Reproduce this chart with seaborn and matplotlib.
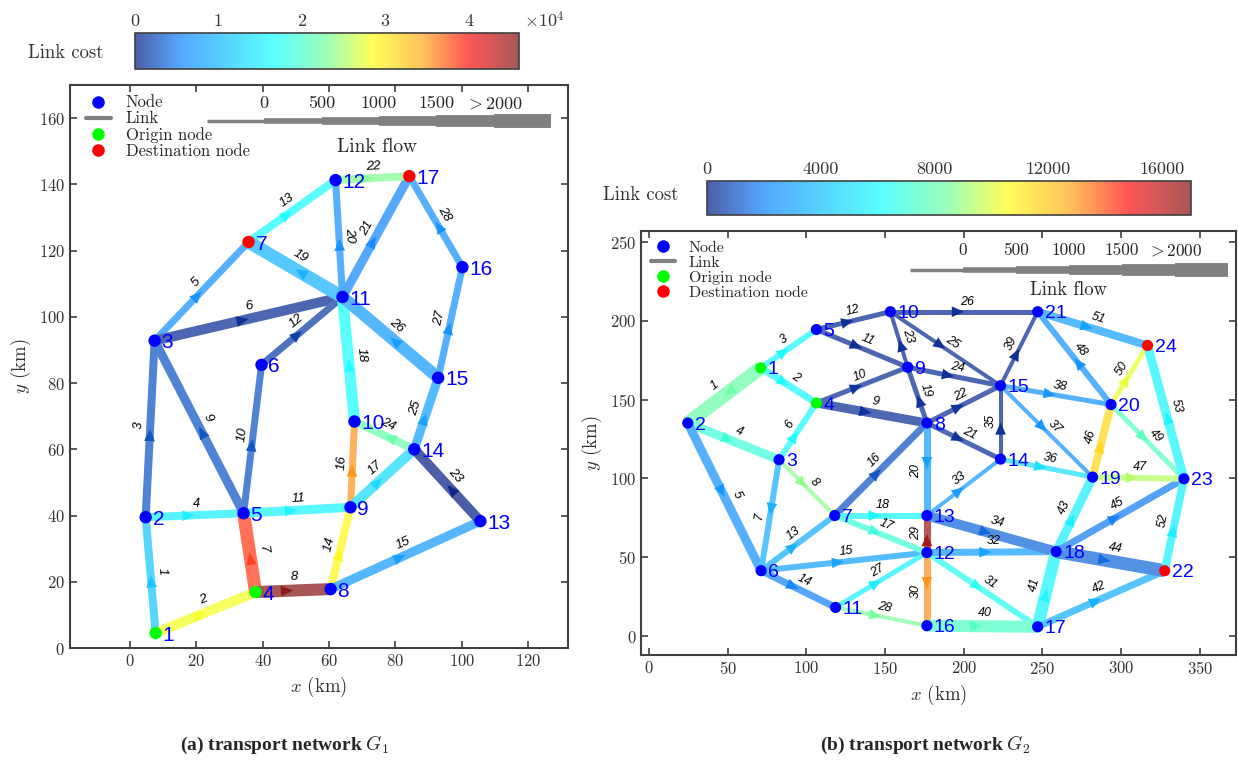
import numpy as np
import pandas as pd
import matplotlib
matplotlib.use("Agg")
import matplotlib.pyplot as plt
import seaborn as sns
from matplotlib.colors import LinearSegmentedColormap, Normalize
from matplotlib.cm import ScalarMappable
from matplotlib.lines import Line2D

# ---------------- network G1 ----------------
g1_node_x = [7.8, 4.8, 7.5, 37.9, 34.3, 39.7, 35.8, 60.5, 66.5, 67.7, 64.1, 62.0, 105.6, 85.7, 92.9, 100.2, 84.2]
g1_node_y = [4.5, 39.5, 92.8, 16.9, 40.7, 85.5, 122.6, 17.8, 42.5, 68.4, 106.0, 141.3, 38.3, 60.0, 81.6, 115.0, 142.5]
g1_origins = [1, 4]
g1_dests = [7, 17]
g1_from = [1, 1, 2, 2, 3, 3, 4, 4, 5, 5, 5, 6, 7, 8, 8, 9, 9, 10, 11, 11, 11, 12, 13, 14, 14, 15, 15, 16]
g1_to = [2, 4, 3, 5, 7, 11, 5, 8, 3, 6, 9, 11, 12, 9, 13, 10, 14, 11, 7, 12, 17, 17, 14, 10, 15, 11, 16, 17]
g1_cost = [11300, 28200, 2800, 15000, 6600, 700, 38500, 46000, 2800, 2800, 15500, 1600, 16500, 29000,
           7500, 35300, 13200, 16500, 9400, 6600, 5600, 23500, 0, 22000, 8000, 7500, 6600, 6600]
g1_flow = [870, 1250, 870, 870, 680, 1250, 1830, 1640, 1060, 680, 1060, 680, 870, 870,
           1060, 680, 1250, 1450, 1830, 680, 1060, 870, 1250, 870, 1060, 1640, 680, 680]
g1_cost_max = 46000
g1_cost_ticks = [0, 10000, 20000, 30000, 40000]
g1_cost_ticklabels = ["0", "1", "2", "3", "4"]

# ---------------- network G2 ----------------
g2_node_x = [71.1, 24.7, 82.7, 106.4, 106.4, 71.3, 118.1, 176.6, 164.4, 153.4, 118.6, 176.6,
             176.6, 223.4, 223.4, 176.6, 247.0, 258.7, 281.9, 293.6, 247.0, 327.7, 339.9, 316.8]
g2_node_y = [170.2, 135.2, 111.9, 147.9, 194.5, 41.5, 76.5, 135.2, 170.6, 205.8, 18.2, 53.0,
             76.5, 112.3, 158.9, 6.6, 5.9, 53.6, 100.9, 146.9, 205.8, 41.5, 99.8, 184.4]
g2_origins = [1, 4]
g2_dests = [22, 24]
g2_from = [1, 1, 1, 2, 2, 3, 3, 3, 4, 4, 5, 5, 6, 6, 6, 7, 7, 7, 8, 8, 8, 8, 9, 9, 10, 10, 11,
           11, 12, 12, 12, 12, 13, 13, 14, 14, 15, 15, 15, 16, 17, 17, 18, 18, 18, 19, 19, 20, 20,
           20, 21, 22, 23]
g2_to = [2, 4, 5, 3, 6, 4, 6, 7, 8, 9, 9, 10, 7, 11, 12, 8, 12, 13, 9, 13, 14, 15, 10, 15, 15, 21,
         12, 16, 13, 16, 17, 18, 14, 18, 15, 19, 19, 20, 21, 17, 18, 22, 19, 22, 23, 20, 23, 21, 23,
         24, 24, 23, 24]
g2_cost = [8200, 6000, 6000, 7100, 2500, 6000, 3400, 8800, 300, 300, 200, 200, 3400, 2000,
           3000, 1000, 7100, 5800, 300, 2900, 300, 300, 200, 200, 200, 200, 5600, 8500,
           16500, 13100, 6500, 2900, 2700, 1400, 200, 5100, 2500, 2500, 200, 7500, 5800, 3400,
           5600, 1400, 1900, 11600, 9400, 2400, 7700, 10200, 2900, 5600, 5800]
g2_flow = [2000, 680, 480, 1060, 1060, 480, 480, 100, 1060, 290, 290, 290, 480, 680, 480, 680,
           480, 480, 290, 680, 290, 290, 100, 290, 100, 290, 290, 100, 680, 680, 480, 680, 100,
           1250, 100, 290, 100, 290, 100, 1640, 1640, 680, 1060, 1830, 680, 870, 480, 480, 290,
           290, 870, 870, 1060]
g2_cost_max = 17000
g2_cost_ticks = [0, 4000, 8000, 12000, 16000]
g2_cost_ticklabels = ["0", "4000", "8000", "12000", "16000"]

flow_levels = [0, 400, 800, 1200, 1600, 2000]
flow_ticklabels = ["0", "500", "1000", "1500", r"$>$2000"]

sns.set_style("ticks")
plt.rcParams["font.family"] = ["cmr10", "DejaVu Serif"]
plt.rcParams["mathtext.fontset"] = "cm"
plt.rcParams["axes.formatter.use_mathtext"] = True

# faded jet-like colour scale
cmap_stops = [0.0, 0.12, 0.36, 0.5, 0.62, 0.75, 0.87, 1.0]
cmap_colors = [(0.30, 0.37, 0.66), (0.33, 0.66, 1.0), (0.35, 1.0, 1.0), (0.62, 1.0, 0.72),
               (1.0, 1.0, 0.35), (1.0, 0.76, 0.36), (1.0, 0.34, 0.34), (0.66, 0.34, 0.34)]
line_cmap = LinearSegmentedColormap.from_list("faded_jet", list(zip(cmap_stops, cmap_colors)))
arrow_colors = [tuple(np.clip(1.35 * np.array(c) - 0.35, 0, 1)) for c in cmap_colors]
arrow_cmap = LinearSegmentedColormap.from_list("arrow_jet", list(zip(cmap_stops, arrow_colors)))
frame_col = "#404040"


def flow_width(f):
    return 2.5 + 7.5 * np.clip(np.asarray(f, dtype=float), 0, 2000) / 2000


def draw_network(ax, node_x, node_y, src, dst, cost, flow, origins, dests, cmax,
                 node_fs, link_fs, node_s):
    norm = Normalize(0, cmax)
    nx_, ny_ = np.asarray(node_x), np.asarray(node_y)
    for k in range(len(src)):
        i, j = src[k] - 1, dst[k] - 1
        c = line_cmap(norm(cost[k]))
        lw = float(flow_width(flow[k]))
        ax.plot([nx_[i], nx_[j]], [ny_[i], ny_[j]], color=c, lw=lw,
                solid_capstyle="butt", zorder=1)
        p1 = np.array([nx_[i], ny_[i]])
        p2 = np.array([nx_[j], ny_[j]])
        tip = p1 + 0.5 * (p2 - p1)
        tail = p1 + 0.44 * (p2 - p1)
        ax.annotate("", xy=tip, xytext=tail,
                    arrowprops=dict(arrowstyle="-|>,head_length=0.8,head_width=0.35",
                                    mutation_scale=11, color=arrow_cmap(norm(cost[k])),
                                    lw=0, shrinkA=0, shrinkB=0), zorder=2)
        d1 = ax.transData.transform(p1)
        d2 = ax.transData.transform(p2)
        ang = np.degrees(np.arctan2(d2[1] - d1[1], d2[0] - d1[0]))
        if ang > 90:
            ang -= 180
        elif ang <= -90:
            ang += 180
        r = np.radians(ang)
        off = lw / 2 + 1.0
        ax.annotate(str(k + 1), xy=p1 + 0.52 * (p2 - p1),
                    xytext=(-np.sin(r) * off, np.cos(r) * off), textcoords="offset points",
                    rotation=ang, rotation_mode="anchor", ha="center", va="bottom",
                    fontsize=link_fs, family="Liberation Sans", style="italic", color="black",
                    zorder=4)

    kinds = []
    for n in range(1, len(node_x) + 1):
        if n in origins:
            kinds.append("Origin node")
        elif n in dests:
            kinds.append("Destination node")
        else:
            kinds.append("Node")
    df = pd.DataFrame({"x": node_x, "y": node_y, "kind": kinds})
    sns.scatterplot(data=df, x="x", y="y", hue="kind",
                    palette={"Node": "#0000ff", "Origin node": "#00ff00",
                             "Destination node": "#ff0000"},
                    s=node_s, edgecolor="none", linewidth=0, legend=False, ax=ax, zorder=3)
    for n in range(len(node_x)):
        ax.annotate(str(n + 1), xy=(node_x[n], node_y[n]), xytext=(5, -1.5),
                    textcoords="offset points", ha="left", va="center",
                    fontsize=node_fs, family="Liberation Sans", color="#0000ff", zorder=4)


def style_axes(ax, xlim, ylim, xticks, yticks):
    ax.set_xlim(*xlim)
    ax.set_ylim(*ylim)
    ax.set_xticks(xticks)
    ax.set_yticks(yticks)
    ax.tick_params(direction="in", top=True, right=True, length=5, width=1.2,
                   color=frame_col, labelcolor="#333333", labelsize=12)
    for sp in ax.spines.values():
        sp.set_color(frame_col)
        sp.set_linewidth(1.5)


def add_legends(ax, leg_anchor, bar_x, bar_y, lab_y, flow_title_xy, fs):
    handles = [
        Line2D([], [], marker="o", ls="none", color="#0000ff", markersize=8),
        Line2D([], [], color="#808080", lw=3),
        Line2D([], [], marker="o", ls="none", color="#00ff00", markersize=8),
        Line2D([], [], marker="o", ls="none", color="#ff0000", markersize=8),
    ]
    ax.legend(handles, ["Node", "Link", "Origin node", "Destination node"],
              loc="upper left", bbox_to_anchor=leg_anchor, frameon=False, fontsize=fs,
              handlelength=1.5, handletextpad=0.9, labelspacing=0.05, borderaxespad=0.2)
    edges = np.linspace(bar_x[0], bar_x[1], len(flow_levels) + 1)
    widths = flow_width(flow_levels)
    for s in range(len(flow_levels)):
        ax.plot([edges[s], edges[s + 1]], [bar_y, bar_y], color="#808080", lw=widths[s],
                solid_capstyle="butt", transform=ax.transAxes, clip_on=False, zorder=5)
    for s, lab in enumerate(flow_ticklabels):
        ax.text(edges[s + 1], lab_y, lab, transform=ax.transAxes, ha="center",
                va="center", fontsize=fs + 1)
    ax.text(flow_title_xy[0], flow_title_xy[1], "Link flow", transform=ax.transAxes,
            ha="center", va="center", fontsize=fs + 2)


def add_colorbar(fig, rect, cmax, ticks, ticklabels, label_xy):
    cax = fig.add_axes(rect)
    cb = fig.colorbar(ScalarMappable(Normalize(0, cmax), line_cmap), cax=cax,
                      orientation="horizontal")
    cax.xaxis.set_ticks_position("top")
    cb.set_ticks(ticks)
    cb.set_ticklabels(ticklabels)
    cax.tick_params(direction="in", length=4, width=1, color=frame_col,
                    labelcolor="#333333", labelsize=13, pad=3)
    cb.outline.set_edgecolor(frame_col)
    cb.outline.set_linewidth(1.2)
    fig.text(label_xy[0], label_xy[1], "Link cost", ha="left", va="center",
             fontsize=13.5, color="#333333")
    return cax


fig = plt.figure(figsize=(12.38, 7.62), dpi=100)

ax1 = fig.add_axes([0.0565, 0.1496, 0.4023, 0.7388])
style_axes(ax1, (-18, 132), (0, 170), range(0, 121, 20), range(0, 161, 20))
draw_network(ax1, g1_node_x, g1_node_y, g1_from, g1_to, g1_cost, g1_flow,
             g1_origins, g1_dests, g1_cost_max, node_fs=15, link_fs=9.5, node_s=80)
ax1.set_xlabel("$x$ (km)", fontsize=13.5, color="#333333")
ax1.set_ylabel("$y$ (km)", fontsize=13.5, color="#333333")
add_legends(ax1, (0.012, 1.0), (0.275, 0.966), 0.936, 0.968, (0.617, 0.89), 12)

ax2 = fig.add_axes([0.5178, 0.1404, 0.4806, 0.5564])
style_axes(ax2, (-5, 373), (-12, 257), range(0, 351, 50), range(0, 251, 50))
draw_network(ax2, g2_node_x, g2_node_y, g2_from, g2_to, g2_cost, g2_flow,
             g2_origins, g2_dests, g2_cost_max, node_fs=14, link_fs=9, node_s=65)
ax2.set_xlabel("$x$ (km)", fontsize=13.5, color="#333333")
ax2.set_ylabel("$y$ (km)", fontsize=13.5, color="#333333")
add_legends(ax2, (0.0, 1.0), (0.452, 0.987), 0.908, 0.955, (0.718, 0.861), 11.5)

add_colorbar(fig, [0.109, 0.9094, 0.310, 0.0472], g1_cost_max, g1_cost_ticks,
             g1_cost_ticklabels, (0.0226, 0.930))
fig.text(0.423, 0.974, r"$\times10^4$", ha="left", va="center", fontsize=13, color="#333333")
add_colorbar(fig, [0.571, 0.7178, 0.391, 0.0446], g2_cost_max, g2_cost_ticks,
             g2_cost_ticklabels, (0.487, 0.744))

fig.text(0.230, 0.022, r"(a) transport network $G_1$", ha="center", va="center",
         fontsize=14, fontweight="bold", family="Liberation Serif")
fig.text(0.747, 0.022, r"(b) transport network $G_2$", ha="center", va="center",
         fontsize=14, fontweight="bold", family="Liberation Serif")

fig.savefig("out.png", dpi=100)
